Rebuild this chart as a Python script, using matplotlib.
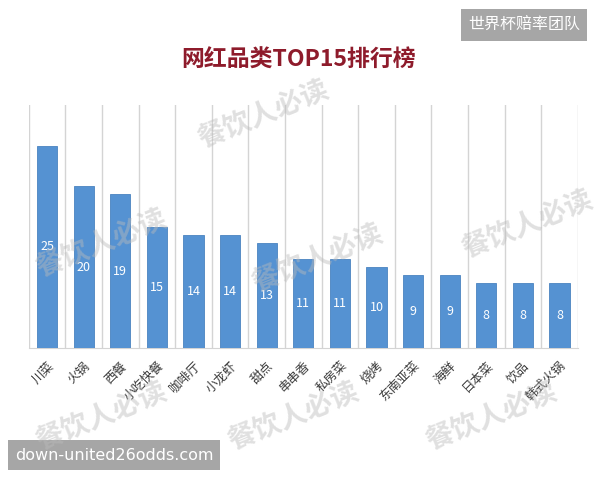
import matplotlib.pyplot as plt
import numpy as np

plt.rcParams['font.family'] = ['Noto Sans CJK SC', 'DejaVu Sans']

categories = ['川菜', '火锅', '西餐', '小吃快餐', '咖啡厅', '小龙虾', '甜点', '串串香',
              '私房菜', '烧烤', '东南亚菜', '海鲜', '日本菜', '饮品', '韩式火锅']
values = [25, 20, 19, 15, 14, 14, 13, 11, 11, 10, 9, 9, 8, 8, 8]

fig = plt.figure(figsize=(6, 4.8), dpi=100)
ax = fig.add_axes([0.048, 0.275, 0.915, 0.506])

x = np.arange(len(categories))
bars = ax.bar(x, values, width=0.55, color='#5592D2', edgecolor='#4A83C0', linewidth=0.6, zorder=3)

for b, v in zip(bars, values):
    ax.text(b.get_x() + b.get_width() / 2, v / 2, str(v), ha='center', va='center',
            color='white', fontsize=9, zorder=4)

ax.set_xlim(-0.5, len(categories) - 0.5)
ax.set_ylim(0, 30)
ax.set_yticks([])
ax.set_xticks(x)
ax.set_xticklabels(categories, rotation=45, ha='right', rotation_mode='anchor',
                   fontsize=9, color='#3A3A3A')
ax.tick_params(axis='x', length=0, pad=8)

# vertical lines between categories
ax.set_xticks(np.arange(-0.5, len(categories) + 0.5, 1), minor=True)
ax.tick_params(axis='x', which='minor', length=0)
ax.grid(axis='x', which='minor', color='#D4D4D4', linewidth=1, zorder=0)
ax.grid(axis='x', which='major', visible=False)

for side in ['top', 'left', 'right']:
    ax.spines[side].set_visible(False)
ax.spines['bottom'].set_color('#D4D4D4')

fig.text(0.497, 0.875, '网红品类TOP15排行榜', ha='center', va='center',
         fontsize=16.5, fontweight='bold', color='#8E1B2B')

# faint watermarks
marks = [(0.44, 0.76), (0.17, 0.49), (0.53, 0.46), (0.88, 0.53),
         (0.17, 0.13), (0.49, 0.13), (0.82, 0.13)]
for mx, my in marks:
    fig.text(mx, my, '餐饮人必读', ha='center', va='center', fontsize=20,
             fontweight='bold', color='#BBBBBB', alpha=0.45, rotation=22, zorder=10)

# corner badges
fig.text(0.873, 0.948, '世界杯赔率团队', ha='center', va='center', fontsize=11.5,
         color='white', bbox=dict(boxstyle='square,pad=0.45', fc='#A6A6A6', ec='none'))
fig.text(0.190, 0.052, 'down-united26odds.com', ha='center', va='center', fontsize=11.5,
         color='white', family=['DejaVu Sans'],
         bbox=dict(boxstyle='square,pad=0.45', fc='#A6A6A6', ec='none'))

fig.savefig('out.png', dpi=100)
